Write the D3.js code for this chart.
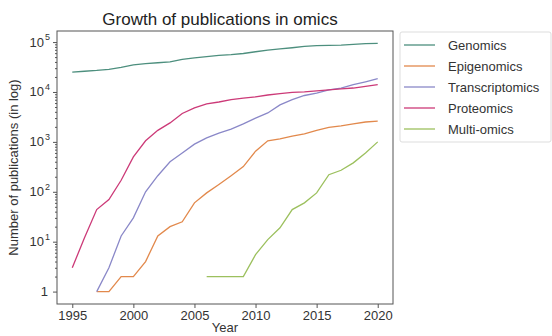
<!DOCTYPE html>
<html>
<head>
<meta charset="utf-8">
<script src="https://cdn.jsdelivr.net/npm/d3@7"></script>
<style>
  html, body { margin: 0; padding: 0; background: #fff; }
  svg { display: block; font-family: "Liberation Sans", Arial, sans-serif; }
</style>
</head>
<body>
<svg id="chart" width="552" height="336"></svg>
<script>
// Publication counts per year for each omics field
const years = d3.range(1995, 2021);
const seriesNames = ["Genomics", "Epigenomics", "Transcriptomics", "Proteomics", "Multi-omics"];
const seriesColors = ["#4d8f7e", "#e2894c", "#8a88c8", "#cc3a78", "#9cc05e"];

const genomics = [25000, 26000, 27000, 28500, 31000, 35000, 37000, 38500, 40000, 45000, 48000, 51000, 54000, 56000, 59000, 64000, 69000, 73000, 77000, 82000, 85000, 86000, 87000, 90000, 93000, 94000];
const epigenomics = [null, null, 1, 1, 2, 2, 4, 13, 20, 25, 60, 95, 140, 210, 320, 650, 1050, 1150, 1300, 1450, 1700, 1950, 2100, 2300, 2500, 2600];
const transcriptomics = [null, null, 1, 3, 13, 30, 100, 210, 400, 600, 900, 1200, 1500, 1800, 2300, 3000, 3800, 5500, 7000, 8500, 9500, 11000, 12000, 14000, 16000, 18500];
const proteomics = [3, 12, 44, 70, 170, 500, 1050, 1700, 2400, 3700, 4800, 5800, 6300, 7000, 7500, 8000, 8700, 9300, 9800, 10000, 10500, 11000, 11500, 12000, 13000, 14000];
const multiomics = [null, null, null, null, null, null, null, null, null, null, null, 2, 2, 2, 2, 5.5, 11, 19, 44, 60, 95, 220, 270, 380, 600, 1000];

const yTickValues = [1, 10, 100, 1000, 10000, 100000];
const xTickValues = [1995, 2000, 2005, 2010, 2015, 2020];

const seriesValues = [genomics, epigenomics, transcriptomics, proteomics, multiomics];

const svg = d3.select("#chart");
const margin = { left: 57, right: 159, top: 31, bottom: 32 };
const W = 552, H = 336;
const plotW = W - margin.left - margin.right;
const plotH = H - margin.top - margin.bottom;

// 5% padding like a default matplotlib axes
const xPad = (2020 - 1995) * 0.05;
const x = d3.scaleLinear().domain([1995 - xPad, 2020 + xPad]).range([margin.left, margin.left + plotW]);
const lmin = 0, lmax = Math.log10(94000);
const lpad = (lmax - lmin) * 0.05;
const y = d3.scaleLog().domain([Math.pow(10, lmin - lpad), Math.pow(10, lmax + lpad)]).range([margin.top + plotH, margin.top]);

const axisColor = "#555";
const textColor = "#333";

// Title
svg.append("text")
  .attr("x", 220).attr("y", 25)
  .attr("text-anchor", "middle")
  .attr("font-size", 17).attr("fill", "#222")
  .text("Growth of publications in omics");

// Lines
const line = d3.line()
  .defined(d => d.v != null)
  .x(d => x(d.year))
  .y(d => y(d.v));

seriesValues.forEach((vals, i) => {
  const pts = years.map((yr, j) => ({ year: yr, v: vals[j] }));
  svg.append("path")
    .datum(pts)
    .attr("fill", "none")
    .attr("stroke", seriesColors[i])
    .attr("stroke-width", 1.3)
    .attr("d", line);
});

// Frame
svg.append("rect")
  .attr("x", margin.left).attr("y", margin.top)
  .attr("width", plotW).attr("height", plotH)
  .attr("fill", "none").attr("stroke", axisColor).attr("stroke-width", 1);

// X axis
const xAxis = svg.append("g")
  .attr("transform", `translate(0,${margin.top + plotH})`)
  .call(d3.axisBottom(x).tickValues(xTickValues).tickFormat(d3.format("d")).tickSize(4).tickPadding(3));
xAxis.select(".domain").remove();
xAxis.selectAll("line").attr("stroke", axisColor);
xAxis.selectAll("text").attr("font-size", 13).attr("fill", textColor).attr("font-family", "Liberation Sans, Arial, sans-serif");

// Y axis: minor ticks
const minorTicks = [];
for (let e = 0; e < 5; e++) for (let k = 2; k <= 9; k++) minorTicks.push(k * Math.pow(10, e));
const yMinor = svg.append("g")
  .attr("transform", `translate(${margin.left},0)`)
  .call(d3.axisLeft(y).tickValues(minorTicks.filter(v => v < y.domain()[1])).tickFormat("").tickSize(2));
yMinor.select(".domain").remove();
yMinor.selectAll("line").attr("stroke", axisColor);

// Y axis: major ticks with superscript labels
const yAxis = svg.append("g")
  .attr("transform", `translate(${margin.left},0)`)
  .call(d3.axisLeft(y).tickValues(yTickValues).tickFormat("").tickSize(4));
yAxis.select(".domain").remove();
yAxis.selectAll("line").attr("stroke", axisColor);

yTickValues.forEach(v => {
  const e = Math.round(Math.log10(v));
  const t = svg.append("text")
    .attr("y", y(v) + 4.5)
    .attr("font-size", 13).attr("fill", textColor)
    .attr("text-anchor", "end");
  if (e === 0) {
    t.attr("x", margin.left - 9).text("1");
  } else {
    t.attr("x", margin.left - 13).text("10");
    svg.append("text")
      .attr("x", margin.left - 12).attr("y", y(v) - 2)
      .attr("font-size", 9).attr("fill", textColor)
      .text(e);
  }
});

// Axis labels
svg.append("text")
  .attr("x", margin.left + plotW / 2).attr("y", 332)
  .attr("text-anchor", "middle")
  .attr("font-size", 13).attr("fill", textColor)
  .text("Year");

svg.append("text")
  .attr("transform", `translate(18,${margin.top + plotH / 2}) rotate(-90)`)
  .attr("text-anchor", "middle")
  .attr("font-size", 13).attr("fill", textColor)
  .text("Number of publications (in log)");

// Legend
const lg = svg.append("g").attr("transform", "translate(400,32)");
lg.append("rect")
  .attr("x", 0).attr("y", 0).attr("width", 151).attr("height", 110)
  .attr("rx", 2)
  .attr("fill", "#fff").attr("stroke", "#ddd");
seriesNames.forEach((name, i) => {
  const cy = 13 + i * 21;
  lg.append("line")
    .attr("x1", 4).attr("x2", 35).attr("y1", cy).attr("y2", cy)
    .attr("stroke", seriesColors[i]).attr("stroke-width", 1.3);
  lg.append("text")
    .attr("x", 48).attr("y", cy + 5)
    .attr("font-size", 13).attr("fill", textColor)
    .text(name);
});
</script>
</body>
</html>
